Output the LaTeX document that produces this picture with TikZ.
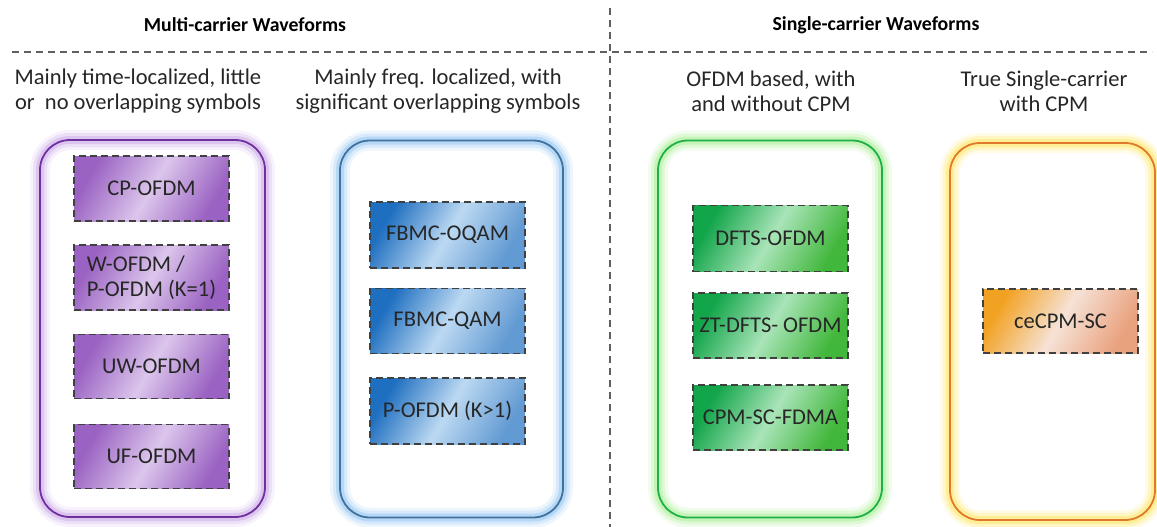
\documentclass[tikz,border=0pt]{standalone}
\usepackage{fontspec}
\setmainfont{Carlito}
\usetikzlibrary{positioning}
\definecolor{purpleline}{HTML}{7030A0}
\definecolor{purpleglow}{HTML}{C9A8E8}
\definecolor{purpledark}{HTML}{9A62C2}
\definecolor{purplelight}{HTML}{DCC6EC}
\definecolor{blueline}{HTML}{41719C}
\definecolor{blueglow}{HTML}{8FC3F2}
\definecolor{bluedark}{HTML}{1F6FC0}
\definecolor{bluelight}{HTML}{BCD9F2}
\definecolor{greenline}{HTML}{1FAF4A}
\definecolor{greenglow}{HTML}{A6EE90}
\definecolor{greendark}{HTML}{12A54A}
\definecolor{greenlight}{HTML}{A9E4B8}
\definecolor{orangeline}{HTML}{E0782E}
\definecolor{orangeglow}{HTML}{FFE55C}
\definecolor{orangedark}{HTML}{F2A222}
\definecolor{orangelight}{HTML}{F6E2D6}
\definecolor{orangeright}{HTML}{E9A27E}
\definecolor{sepline}{HTML}{606060}
\tikzset{
  sep/.style={draw=sepline, line width=1.3pt, dash pattern=on 7pt off 5pt},
  title/.style={font=\fontsize{19.8}{22}\selectfont\bfseries, text=black},
  subhead/.style={font=\fontsize{22.5}{25}\selectfont, align=center, text=black!85},
  group/.style 2 args={draw=#1, line width=1.8pt, rounded corners=30pt,
    preaction={draw=#2, line width=20pt, opacity=0.15},
    preaction={draw=#2, line width=14pt, opacity=0.25},
    preaction={draw=#2, line width=8pt, opacity=0.45}},
  wave/.style n args={3}{draw=black!75, line width=1.4pt, dash pattern=on 7pt off 4pt,
    left color=#1, right color=#3, middle color=#2, shading angle=60,
    minimum width=155pt, inner sep=1pt, font=\fontsize{22.5}{25}\selectfont, text=black!85}
}
\begin{document}
\begin{tikzpicture}[x=1pt,y=-1pt]
\useasboundingbox (0,0) rectangle (1157,527);

% section headings and separators
\node[title] (mc) at (245,25) {Multi-carrier Waveforms};
\node[title] (sc) at (876,25) {Single-carrier Waveforms};
\coordinate (hl) at (12,52);
\coordinate (hr) at (1152,52);
\coordinate (vt) at (610,8);
\coordinate (vb) at (610,527);
\draw[sep] (hl) -- (hr);
\draw[sep] (vt) -- (vb);

% column descriptions
\node[subhead] (d1) at (138,91) {Mainly time-localized, little\\or\ \ no overlapping symbols};
\node[subhead] (d2) at (438,91) {Mainly freq. localized, with\\significant overlapping symbols};
\node[subhead] (d3) at (771,91) {OFDM based, with\\and without CPM};
\node[subhead] (d4) at (1044,91) {True Single-carrier\\with CPM};

% group frames
\node[group={purpleline}{purpleglow}, minimum width=225pt, minimum height=377pt] (g1) at (152.5,328.5) {};
\node[group={blueline}{blueglow}, minimum width=223pt, minimum height=377pt] (g2) at (451.5,329) {};
\node[group={greenline}{greenglow}, minimum width=224pt, minimum height=377pt] (g3) at (770,329) {};
\node[group={orangeline}{orangeglow}, minimum width=205pt, minimum height=377pt] (g4) at (1052.5,331.5) {};

% multi-carrier, time-localized
\node[wave={purpledark}{purplelight}{purpledark}, minimum height=65pt] (cp) at (151.5,188.5) {CP-OFDM};
\node[wave={purpledark}{purplelight}{purpledark}, minimum height=65pt, align=left] (wo) at (151.5,277.5) {W-OFDM /\\P-OFDM (K=1)};
\node[wave={purpledark}{purplelight}{purpledark}, minimum height=64pt] (uw) at (151.5,366.5) {UW-OFDM};
\node[wave={purpledark}{purplelight}{purpledark}, minimum height=64pt] (uf) at (151.5,456.5) {UF-OFDM};

% multi-carrier, frequency-localized
\node[wave={bluedark}{bluelight}{bluedark!70}, minimum height=66pt] (oq) at (447.5,235) {FBMC-OQAM};
\node[wave={bluedark}{bluelight}{bluedark!70}, minimum height=65pt] (qa) at (447.5,321) {FBMC-QAM};
\node[wave={bluedark}{bluelight}{bluedark!70}, minimum height=66pt] (po) at (447.5,411) {P-OFDM (K>1)};

% single-carrier, OFDM based
\node[wave={greendark}{greenlight}{greendark!80!yellow}, minimum height=66pt] (df) at (770.5,238.5) {DFTS-OFDM};
\node[wave={greendark}{greenlight}{greendark!80!yellow}, minimum height=65pt] (zt) at (770.5,325.5) {ZT-DFTS- OFDM};
\node[wave={greendark}{greenlight}{greendark!80!yellow}, minimum height=65pt] (cs) at (770.5,417.5) {CPM-SC-FDMA};

% true single-carrier
\node[wave={orangedark}{orangelight}{orangeright}, minimum height=64pt] (ce) at (1060.5,321) {ceCPM-SC};
\end{tikzpicture}
\end{document}
